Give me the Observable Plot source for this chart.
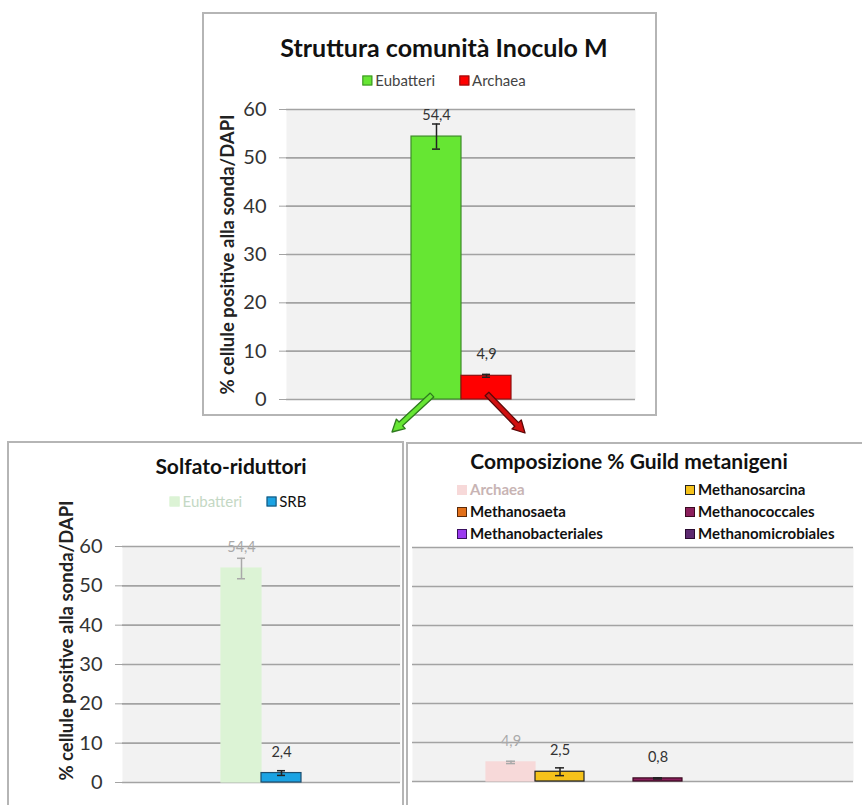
<!DOCTYPE html>
<html>
<head>
<meta charset="utf-8">
<script src="https://cdn.jsdelivr.net/npm/d3@7"></script>
<script src="https://cdn.jsdelivr.net/npm/@observablehq/plot@0.6"></script>
<style>
  body { margin: 0; background: #fff; font-family: Lato, "Open Sans", sans-serif; }
  #page { position: relative; width: 862px; height: 805px; overflow: hidden; background: #fff; }
  .panel { position: absolute; border: 2px solid #b5b5b5; box-sizing: border-box; background: #fff; }
  .title { position: absolute; font-weight: bold; color: #111; white-space: nowrap; transform: translate(-50%, -50%); line-height: 1; }
  .legend { position: absolute; display: flex; align-items: center; white-space: nowrap; transform: translate(-50%, -50%); line-height: 1; }
  .legend .item { display: flex; align-items: center; }
  .legend .sw { width: 10px; height: 10px; box-sizing: border-box; border: 1px solid; margin-right: 3px; }
  .grid-legend { position: absolute; display: grid; grid-template-columns: 228px auto; row-gap: 7px; line-height: 1; white-space: nowrap; }
  .grid-legend .item { display: flex; align-items: center; }
  .grid-legend .sw { width: 10px; height: 10px; box-sizing: border-box; border: 1px solid; margin-right: 3px; }
  .chart { position: absolute; }
  #arrows { position: absolute; left: 0; top: 0; pointer-events: none; }
</style>
</head>
<body>
<div id="page"></div>
<script>
// ---- Data -------------------------------------------------------------
const yTicks = [0, 10, 20, 30, 40, 50, 60];
const yTitle = "% cellule positive alla sonda/DAPI";

// Community structure, inoculum M
const commSeries = ["Eubatteri", "Archaea"];
const commValues = [54.4, 4.9];
const commErrors = [2.6, 0.3];

// Sulphate reducers vs. total bacteria
const srSeries = ["Eubatteri", "SRB"];
const srValues = [54.4, 2.4];
const srErrors = [2.6, 0.6];

// Methanogenic guild composition
const guildSeries = ["Archaea", "Methanosarcina", "Methanosaeta", "Methanococcales", "Methanobacteriales", "Methanomicrobiales"];
const guildValues = [4.9, 2.5, 0, 0.8, 0, 0];
const guildErrors = [0.3, 1.0, 0, 0.15, 0, 0];

// ---- Styles -----------------------------------------------------------
const commFill   = ["#66e633", "#ff0000"];
const commStroke = ["#3c8c28", "#8c1010"];
const commInk    = ["#222", "#222"];

const srFill   = ["#dcf3d5", "#1ba3e3"];
const srStroke = ["#dcf3d5", "#1d4e6e"];
const srInk    = ["#a9a9a9", "#222"];
const srText   = ["#c4d8c4", "#111"];

const guildFill   = ["#f7d9d9", "#f5c21b", "#e2701a", "#8b1f5c", "#9b3bf0", "#5d2a70"];
const guildStroke = ["#f7d9d9", "#222", "#5a2a0a", "#3a0a20", "#3a1060", "#2a0a30"];
const guildInk    = ["#a9a9a9", "#222", "#222", "#222", "#222", "#222"];
const guildText   = ["#c8b4b4", "#111", "#111", "#111", "#111", "#111"];

const fmt = v => v.toFixed(1).replace(".", ",");
const rows = (names, values, errors, fill, stroke, ink) =>
  names.map((name, i) => ({name, value: values[i], err: errors[i], fill: fill[i], stroke: stroke[i], ink: ink[i]}));

const page = document.getElementById("page");

function el(cls, css, html) {
  const d = document.createElement("div");
  d.className = cls;
  Object.assign(d.style, css);
  if (html != null) d.innerHTML = html;
  page.appendChild(d);
  return d;
}

function barChart(data, {width, height, marginLeft, marginRight, marginTop, marginBottom, paddingOuter, showAxis, titleDx, titleDy, capInset}) {
  const labelled = data.filter(d => d.value > 0);
  return Plot.plot({
    width, height, marginLeft, marginRight, marginTop, marginBottom,
    style: {fontFamily: "Lato, 'Open Sans', sans-serif", fontSize: "20px", color: "#333", background: "transparent", overflow: "visible"},
    x: {domain: data.map(d => d.name), paddingInner: 0, paddingOuter, axis: null},
    y: {domain: [0, 60], axis: null},
    color: {type: "identity"},
    marks: [
      Plot.frame({fill: "#f2f2f2", stroke: null}),
      Plot.gridY(yTicks, {stroke: "#a3a3a3", strokeOpacity: 1, strokeWidth: 1.6}),
      showAxis ? Plot.axisY(yTicks, {tickSize: 7, tickPadding: 13, stroke: "#a3a3a3", tickFormat: d => d, label: null}) : null,
      showAxis ? Plot.text([yTitle], {frameAnchor: "left", textAnchor: "middle", rotate: -90, dx: titleDx, dy: titleDy, fontSize: 18.5, fontWeight: "bold", fill: "#222"}) : null,
      Plot.barY(data, {x: "name", y: "value", fill: "fill", stroke: "stroke", strokeWidth: 1.2}),
      Plot.ruleX(labelled, {x: "name", y1: d => d.value - d.err, y2: d => d.value + d.err, stroke: "ink", strokeWidth: 1.5}),
      Plot.tickY(labelled, {x: "name", y: d => d.value + d.err, stroke: "ink", strokeWidth: 1.5, insetLeft: capInset, insetRight: capInset}),
      Plot.tickY(labelled, {x: "name", y: d => d.value - d.err, stroke: "ink", strokeWidth: 1.5, insetLeft: capInset, insetRight: capInset}),
      Plot.text(labelled, {x: "name", y: "value", text: d => fmt(d.value), dy: -21, fontSize: 14.5, fill: d => d.ink === "#222" ? "#333" : d.ink})
    ]
  });
}

function place(node, left, top) {
  const wrap = el("chart", {left: left + "px", top: top + "px"});
  wrap.appendChild(node);
  return node;
}

function legendRow(names, fills, strokes, texts, cx, cy, fontSize, gap) {
  const lg = el("legend", {left: cx + "px", top: cy + "px", fontSize: fontSize + "px", gap: gap + "px"});
  names.forEach((n, i) => {
    const it = document.createElement("div");
    it.className = "item";
    it.innerHTML = `<span class="sw" style="background:${fills[i]};border-color:${strokes[i]}"></span><span style="color:${texts[i]}">${n}</span>`;
    lg.appendChild(it);
  });
}

// ---- Panel frames ------------------------------------------------------
el("panel", {left: "202px", top: "12px", width: "455px", height: "404px"});
el("panel", {left: "7px", top: "441px", width: "397px", height: "400px"});
el("panel", {left: "406px", top: "442px", width: "480px", height: "400px"});

// ---- Top: community structure -----------------------------------------
el("title", {left: "444px", top: "47px", fontSize: "25px"}, "Struttura comunità Inoculo M");
legendRow(commSeries, commFill, commStroke, ["#444", "#444"], 444, 80, 15, 24);
const commData = rows(commSeries, commValues, commErrors, commFill, commStroke, commInk);
const commChart = place(barChart(commData, {
  width: 450, height: 319, marginLeft: 82, marginRight: 19, marginTop: 19, marginBottom: 10,
  paddingOuter: 2.49, showAxis: true, titleDx: -58, titleDy: 0, capInset: 21
}), 204, 90);

// ---- Bottom left: sulphate reducers -----------------------------------
el("title", {left: "231px", top: "465px", fontSize: "21px"}, "Solfato-riduttori");
legendRow(srSeries, srFill, srStroke, srText, 238, 501, 15, 24);
const srData = rows(srSeries, srValues, srErrors, srFill, srStroke, srInk);
place(barChart(srData, {
  width: 393, height: 265, marginLeft: 113, marginRight: 2, marginTop: 19, marginBottom: 10,
  paddingOuter: 2.475, showAxis: true, titleDx: -55, titleDy: -24, capInset: 16
}), 9, 527);

// ---- Bottom right: methanogenic guild ----------------------------------
el("title", {left: "629px", top: "460px", fontSize: "21px"}, "Composizione % Guild metanigeni");
const gl = el("grid-legend", {left: "457px", top: "482px", fontSize: "15px", fontWeight: "bold"});
guildSeries.forEach((n, i) => {
  const it = document.createElement("div");
  it.className = "item";
  it.innerHTML = `<span class="sw" style="background:${guildFill[i]};border-color:${guildStroke[i]}"></span><span style="color:${guildText[i]}">${n}</span>`;
  gl.appendChild(it);
});
const guildData = rows(guildSeries, guildValues, guildErrors, guildFill, guildStroke, guildInk);
place(barChart(guildData, {
  width: 453, height: 263, marginLeft: 3, marginRight: 9, marginTop: 19, marginBottom: 10,
  paddingOuter: 1.455, showAxis: false, capInset: 20
}), 409, 528);

// ---- Arrows from the top bars down to the detail panels ---------------
const xs = commChart.scale("x");
const ys = commChart.scale("y");
const ox = 204, oy = 90;
const bw = xs.bandwidth;
const base = oy + ys.apply(0);
const arrowSpecs = [
  {name: "Eubatteri", sx: -4, sy: -4, tx: -40, ty: 37, fill: "#66e633", stroke: "#2e7a1e"},
  {name: "Archaea", sx: 1, sy: -5, tx: 38, ty: 39, fill: "#d01010", stroke: "#5a0808"}
];
function arrowPoints(x0, y0, x1, y1) {
  const dx = x1 - x0, dy = y1 - y0, L = Math.hypot(dx, dy);
  const ux = dx / L, uy = dy / L, nx = -uy, ny = ux;
  const w = 2.6, W = 6.5, hl = 12;
  const hx = x1 - ux * hl, hy = y1 - uy * hl;
  return [
    [x0 + nx * w, y0 + ny * w], [hx + nx * w, hy + ny * w], [hx + nx * W, hy + ny * W],
    [x1, y1],
    [hx - nx * W, hy - ny * W], [hx - nx * w, hy - ny * w], [x0 - nx * w, y0 - ny * w]
  ];
}
const svg = d3.select(page).append("svg").attr("id", "arrows").attr("width", 862).attr("height", 805);
arrowSpecs.forEach(a => {
  const cx = ox + xs.apply(a.name) + bw / 2;
  const x0 = cx + a.sx, y0 = base + a.sy;
  svg.append("polygon")
    .attr("points", arrowPoints(x0, y0, x0 + a.tx, y0 + a.ty).map(p => p.join(",")).join(" "))
    .attr("fill", a.fill).attr("stroke", a.stroke).attr("stroke-width", 1.3).attr("stroke-linejoin", "round");
});
</script>
</body>
</html>
